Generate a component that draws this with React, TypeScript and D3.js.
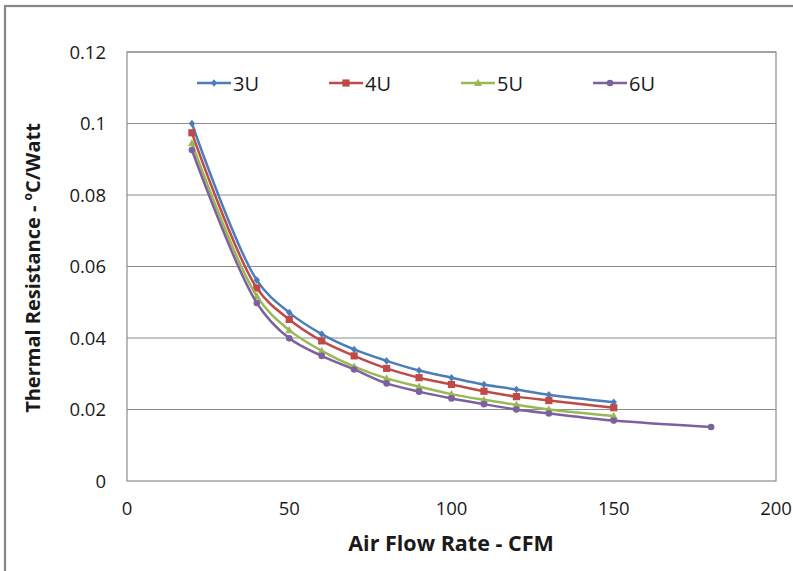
import React from "react";
import * as d3 from "d3";

const flowA = [20, 40, 50, 60, 70, 80, 90, 100, 110, 120, 130, 150];
const flowB = [20, 40, 50, 60, 70, 80, 90, 100, 110, 120, 130, 150, 180];
const r3U = [0.1, 0.0562, 0.0471, 0.0411, 0.0368, 0.0336, 0.0309, 0.0289, 0.027, 0.0256, 0.0241, 0.022];
const r4U = [0.0974, 0.054, 0.0452, 0.0392, 0.035, 0.0315, 0.0289, 0.027, 0.0251, 0.0236, 0.0225, 0.0205];
const r5U = [0.0945, 0.0517, 0.0422, 0.0364, 0.032, 0.0287, 0.0264, 0.0243, 0.0227, 0.0213, 0.02, 0.0182];
const r6U = [0.0926, 0.0498, 0.0399, 0.035, 0.0312, 0.0273, 0.025, 0.0231, 0.0215, 0.02, 0.0189, 0.0169, 0.0151];
const seriesNames = ["3U", "4U", "5U", "6U"];
const xTicks = [0, 50, 100, 150, 200];
const yTicks = [0, 0.02, 0.04, 0.06, 0.08, 0.1, 0.12];

const colors = ["#4a7ebb", "#be4b48", "#98b954", "#7d60a0"];
const markers = ["diamond", "square", "triangle", "circle"];

const W = 793, H = 571;
const L = 127, R = 776, T = 52, B = 481;
const font = "'Open Sans', 'Noto Sans', sans-serif";
const ink = "#1a1a1a";

function Marker({ type, x, y, color }: { type: string; x: number; y: number; color: string }) {
  if (type === "square") return <rect x={x - 3.6} y={y - 3.6} width={7.2} height={7.2} fill={color} />;
  if (type === "diamond")
    return <path d={`M${x},${y - 3.8}L${x + 3.2},${y}L${x},${y + 3.8}L${x - 3.2},${y}Z`} fill={color} />;
  if (type === "triangle")
    return <path d={`M${x},${y - 4.2}L${x + 4},${y + 3}L${x - 4},${y + 3}Z`} fill={color} />;
  return <circle cx={x} cy={y} r={3.3} fill={color} />;
}

export default function App() {
  const x = d3.scaleLinear().domain([0, 200]).range([L, R]);
  const y = d3.scaleLinear().domain([0, 0.12]).range([B, T]);
  const data = [
    { name: seriesNames[0], xs: flowA, ys: r3U },
    { name: seriesNames[1], xs: flowA, ys: r4U },
    { name: seriesNames[2], xs: flowA, ys: r5U },
    { name: seriesNames[3], xs: flowB, ys: r6U },
  ];
  const line = d3
    .line<[number, number]>()
    .x((d) => x(d[0]))
    .y((d) => y(d[1]))
    .curve(d3.curveCatmullRom.alpha(0.5));

  const legendX = [197, 329, 461, 593];
  const legendY = 83;

  return (
    <div style={{ position: "fixed", left: 0, top: 0 }}>
      <svg width={W} height={H} style={{ display: "block", background: "#fff" }}>
        <rect x={5} y={6} width={W + 10} height={H + 10} fill="#fff" stroke="#888" strokeWidth={2.2} />
        {yTicks.slice(1).map((t) => (
          <line key={t} x1={L} x2={R} y1={y(t)} y2={y(t)} stroke="#8c8c8c" strokeWidth={1.2} />
        ))}
        <rect x={L} y={T} width={R - L} height={B - T} fill="none" stroke="#8c8c8c" strokeWidth={1.2} />
        {yTicks.map((t) => (
          <text key={t} x={L - 21} y={y(t) + 6.5} textAnchor="end" fontFamily={font} fontSize={18.5} fill={ink}>
            {t === 0 ? "0" : String(t)}
          </text>
        ))}
        {xTicks.map((t) => (
          <text key={t} x={x(t)} y={B + 34} textAnchor="middle" fontFamily={font} fontSize={18.5} fill={ink}>
            {t}
          </text>
        ))}
        {data.map((s, i) => {
          const pts = s.xs.map((v, j) => [v, s.ys[j]] as [number, number]);
          return (
            <g key={s.name}>
              <path d={line(pts) || ""} fill="none" stroke={colors[i]} strokeWidth={2.5} />
              {pts.map((p, j) => (
                <Marker key={j} type={markers[i]} x={x(p[0])} y={y(p[1])} color={colors[i]} />
              ))}
            </g>
          );
        })}
        {seriesNames.map((n, i) => (
          <g key={n}>
            <line x1={legendX[i]} x2={legendX[i] + 34} y1={legendY} y2={legendY} stroke={colors[i]} strokeWidth={2.5} />
            <Marker type={markers[i]} x={legendX[i] + 17} y={legendY} color={colors[i]} />
            <text x={legendX[i] + 36} y={legendY + 7.5} fontFamily={font} fontSize={20} fill={ink}>
              {n}
            </text>
          </g>
        ))}
        <text x={451} y={551} textAnchor="middle" fontFamily={font} fontSize={21.5} fontWeight="bold" fill={ink}>
          Air Flow Rate - CFM
        </text>
        <text
          transform={`translate(40,268) rotate(-90)`}
          textAnchor="middle"
          fontFamily={font}
          fontSize={20}
          fontWeight="bold"
          fill={ink}
        >
          Thermal Resistance - <tspan fontSize={12} dy={-8}>o</tspan>
          <tspan dy={8}>C/Watt</tspan>
        </text>
      </svg>
    </div>
  );
}
